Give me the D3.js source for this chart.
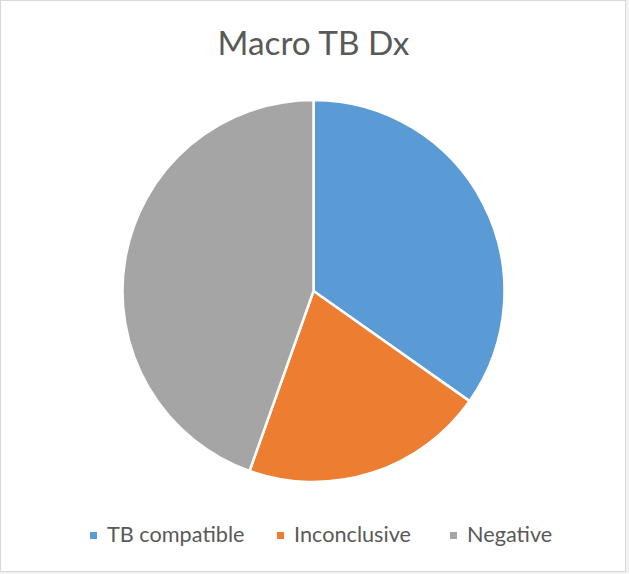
<!DOCTYPE html>
<html>
<head>
<meta charset="utf-8">
<script src="https://cdn.jsdelivr.net/npm/d3@7"></script>
<style>
  html, body { margin: 0; padding: 0; background: #fff; }
  svg { display: block; }
</style>
</head>
<body>
<svg id="chart" width="629" height="574"></svg>
<script>
const title = "Macro TB Dx";
const categories = ["TB compatible", "Inconclusive", "Negative"];
const values = [32, 19, 41];
const colors = ["#5B9BD5", "#ED7D31", "#A5A5A5"];

const svg = d3.select("#chart");
const W = 629, H = 574;
const FONT = "Lato, 'Open Sans', sans-serif";

// chart frame
svg.append("rect").attr("x", 0).attr("y", 0).attr("width", W).attr("height", H).attr("fill", "#f2f2f2");
svg.append("rect").attr("x", 0.5).attr("y", 0.5).attr("width", 625).attr("height", 571)
  .attr("fill", "#fff").attr("stroke", "#d9d9d9");

// helper: fit text to a target width
function fitText(sel, targetW, startSize) {
  sel.attr("font-size", startSize);
  const w = sel.node().getComputedTextLength();
  const s = startSize * targetW / w;
  sel.attr("font-size", s);
  return s;
}

// title
const t = svg.append("text")
  .attr("x", 313.5).attr("y", 54.5)
  .attr("text-anchor", "middle")
  .attr("fill", "#595959")
  .attr("font-family", FONT)
  .text(title);
fitText(t, 192, 30);

// pie
const cx = 313.5, cy = 291, r = 191;
const pie = d3.pie().sort(null).value(d => d.v);
const arc = d3.arc().innerRadius(0).outerRadius(r);
const data = categories.map((c, i) => ({ c, v: values[i], col: colors[i] }));
const g = svg.append("g").attr("transform", `translate(${cx},${cy})`);
g.selectAll("path").data(pie(data)).join("path")
  .attr("d", arc)
  .attr("fill", d => d.data.col)
  .attr("stroke", "#fff")
  .attr("stroke-width", 2.5)
  .attr("stroke-linejoin", "round");

// legend
const legendX = [90, 277, 450];
const legY = 535.5;
const lg = svg.append("g");
let fs = null;
data.forEach((d, i) => {
  lg.append("rect")
    .attr("x", legendX[i]).attr("y", legY - 3.5)
    .attr("width", 7).attr("height", 7)
    .attr("fill", d.col);
  const tx = lg.append("text")
    .attr("x", legendX[i] + 17).attr("y", legY + 6.8)
    .attr("fill", "#595959")
    .attr("font-family", FONT)
    .text(d.c);
  if (fs === null) fs = fitText(tx, 137.5, 20);
  else tx.attr("font-size", fs);
});
</script>
</body>
</html>
